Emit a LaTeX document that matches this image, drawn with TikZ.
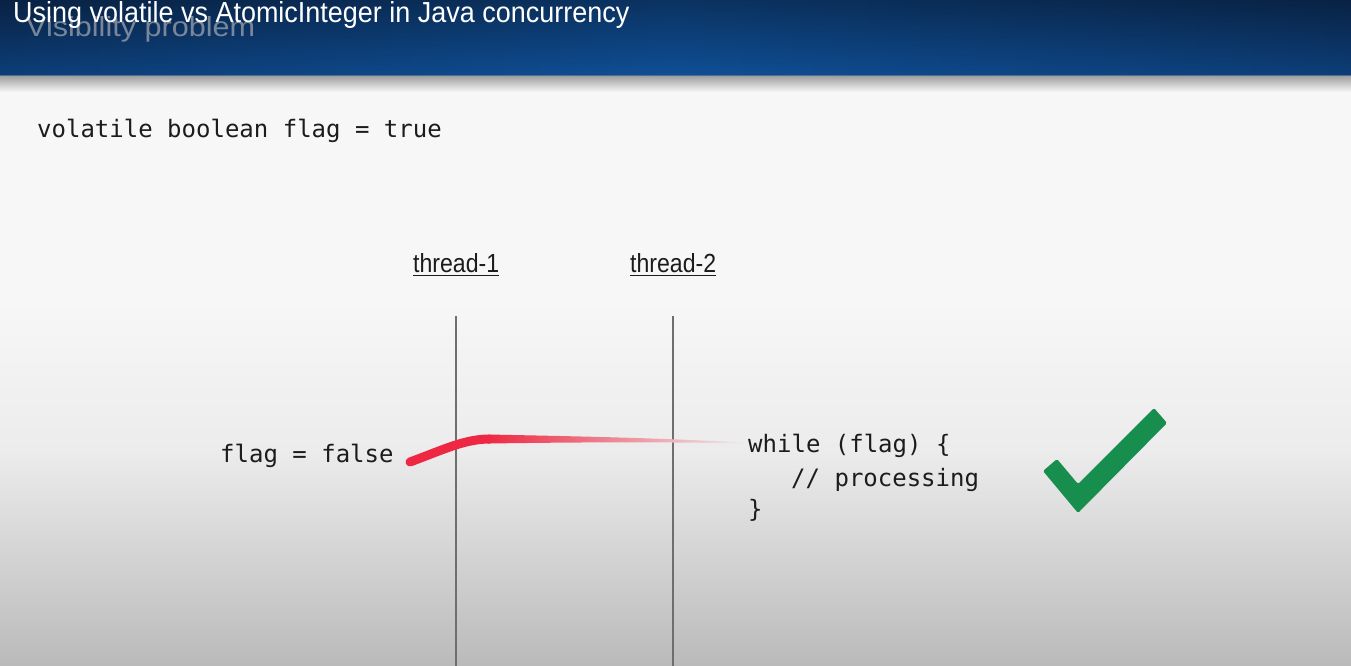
\documentclass[tikz,border=0pt]{standalone}
\usepackage{fontspec}
\usetikzlibrary{calc}
\newfontfamily\titlefont{Liberation Sans}
\newfontfamily\codefont{DejaVu Sans Mono}
\definecolor{bandTop}{RGB}{8,28,54}
\definecolor{bandBot}{RGB}{15,79,150}
\definecolor{bandEdge}{RGB}{10,42,84}
\definecolor{bandLine}{RGB}{80,108,145}
\definecolor{shadowTop}{RGB}{160,160,160}
\definecolor{bgTop}{RGB}{247,247,247}
\definecolor{bgBot}{RGB}{186,186,186}
\definecolor{bgMid}{RGB}{236,236,236}
\definecolor{ink}{RGB}{28,28,28}
\definecolor{ghost}{RGB}{140,150,165}
\definecolor{vgray}{RGB}{110,110,110}
\definecolor{redStroke}{RGB}{238,40,66}
\definecolor{checkGreen}{RGB}{24,142,78}
\begin{document}
\begin{tikzpicture}[x=1pt,y=-1pt,
  code/.style={anchor=base west, inner sep=0pt, text=ink, font=\codefont\fontsize{24}{30}\selectfont},
  thr/.style={anchor=base west, inner sep=0pt, text=ink},
  vline/.style={draw=vgray, line width=1.8pt},
  uline/.style={draw=ink, line width=1.8pt}]
\useasboundingbox (0,0) rectangle (1351,666);
% background
\fill[bgTop] (0,0) rectangle (1351,666);
\shade[top color=bgTop, bottom color=bgMid] (0,300) rectangle (1351,450.5);
\shade[top color=bgMid, bottom color=bgBot] (0,450) rectangle (1351,666);
% header band
\shade[top color=bandTop, bottom color=bandBot] (0,0) rectangle (1351,75);
\shade[left color=bandEdge, right color=bandEdge, middle color=bandBot, opacity=0.45] (0,0) rectangle (1351,75);
\shade[top color=shadowTop, bottom color=bgTop] (0,76) rectangle (1351,92);
\draw[bandLine, line width=1pt] (0,75.5) -- (1351,75.5);
% header texts
\node[anchor=base west, inner sep=0pt, text=ghost, opacity=0.85] (ghost) at (26,37) {\resizebox{229pt}{20pt}{\titlefont Visibility problem}};
\node[anchor=base west, inner sep=0pt, text=white] (title) at (13,23) {\resizebox{616pt}{21pt}{\titlefont Using volatile vs AtomicInteger in Java concurrency}};
% declaration
\node[code] (decl) at (37,137) {volatile boolean flag = true};
% threads
\node[thr] (t1) at (413,272) {\resizebox{86pt}{19pt}{\titlefont thread-1}};
\node[thr] (t2) at (630,272) {\resizebox{86pt}{19pt}{\titlefont thread-2}};
\draw[uline] ($(t1.base west)+(0,3.5)$) -- ($(t1.base east)+(0,3.5)$);
\draw[uline] ($(t2.base west)+(0,3.5)$) -- ($(t2.base east)+(0,3.5)$);
\coordinate (l1top) at (456,316);
\coordinate (l1bot) at (456,666);
\coordinate (l2top) at (673,316);
\coordinate (l2bot) at (673,666);
\draw[vline] (l1top) -- (l1bot);
\draw[vline] (l2top) -- (l2bot);
% code
\node[code] (flag) at (220,462) {flag = false};
\node[code] (w1) at (748,452) {while (flag) \{};
\node[code] (w2) at (791,486) {// processing};
\node[code] (w3) at (748,517) {\}};
% red stroke
\coordinate (rs) at (410,462);
\coordinate (rm) at (490,439);
\draw[redStroke, line width=9pt, line cap=round] (rs) .. controls (445,449) and (465,439) .. (rm);
\shade[left color=redStroke, middle color=redStroke!75!bgMid, right color=bgMid]
  (488,434.5) .. controls (560,436) and (650,437.5) .. (745,442.5)
  -- (745,443.5) .. controls (650,441.5) and (560,442.5) .. (488,443.5) -- cycle;
% check mark
\fill[checkGreen, rounded corners=1.5pt] (1043,471) -- (1057,459) -- (1078,484) -- (1154,408) -- (1167,423) -- (1078,513) -- cycle;
\end{tikzpicture}
\end{document}
